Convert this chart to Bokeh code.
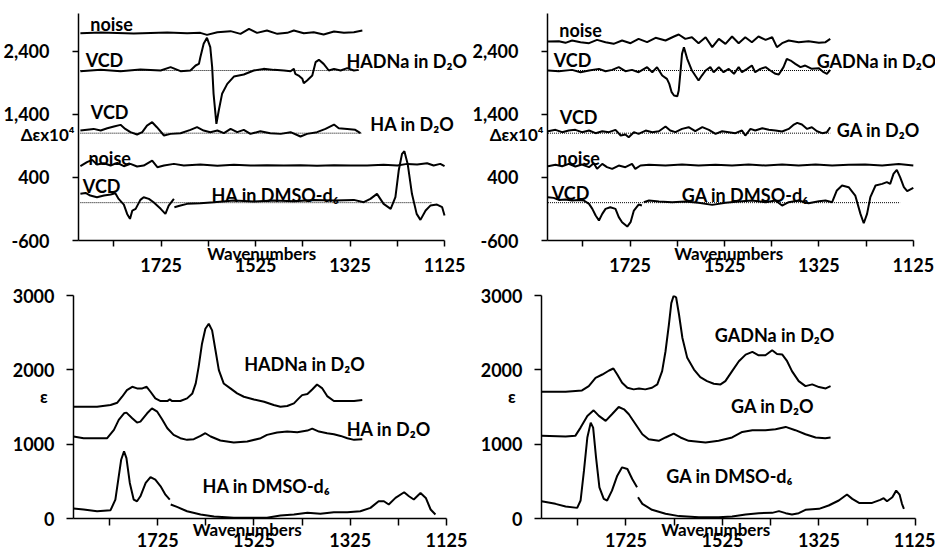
from bokeh.plotting import figure
from bokeh.layouts import column, row
from bokeh.models import Range1d, FixedTicker, NumeralTickFormatter, Label
from bokeh.embed import file_html
from bokeh.resources import INLINE

nan = float("nan")
FONT = "Lato"

# ---------------- axes ----------------
x_ticks = [1825, 1725, 1625, 1525, 1425, 1325, 1225, 1125]
x_tick_labels = {1825: "", 1725: "1725", 1625: "", 1525: "1525", 1425: "", 1325: "1325", 1225: "", 1125: "1125"}
vcd_yticks = [-600, 400, 1400, 2400]
ir_yticks = [0, 1000, 2000, 3000]
x_title = "Wavenumbers"
vcd_title = "\u0394\u03b5x10\u2074"
ir_title = "\u03b5"

# ---------------- VCD, HA panel (top left) ----------------
ha_noise_d2o_x = [1896, 1853, 1783, 1712, 1670, 1642, 1628, 1606, 1578, 1557, 1539, 1522, 1501, 1479, 1458, 1444, 1423, 1402, 1381, 1359, 1338, 1317, 1299]
ha_noise_d2o_y = [2688, 2698, 2683, 2698, 2688, 2693, 2661, 2704, 2720, 2677, 2757, 2693, 2730, 2677, 2693, 2730, 2688, 2704, 2667, 2714, 2693, 2704, 2730]

hadna_vcd_x = [1896, 1853, 1811, 1769, 1726, 1705, 1684, 1663, 1652, 1645, 1642, 1635, 1628, 1621, 1617, 1614, 1610, 1608, 1603, 1596, 1585, 1571, 1550, 1529, 1508, 1486, 1465, 1451, 1444, 1441, 1434, 1426, 1423, 1416, 1405, 1398, 1391, 1381, 1370, 1359, 1345, 1331, 1317, 1307]
hadna_vcd_y = [2085, 2106, 2085, 2112, 2096, 2149, 2085, 2096, 2175, 2201, 2307, 2519, 2614, 2466, 2149, 1726, 1408, 1250, 1461, 1726, 1884, 2000, 2032, 2096, 2122, 2106, 2096, 2085, 2122, 2043, 2016, 1964, 1895, 1937, 2016, 2228, 2265, 2201, 2096, 2122, 2096, 2133, 2096, 2106]

ha_d2o_vcd_x = [1896, 1868, 1853, 1839, 1825, 1811, 1801, 1790, 1776, 1765, 1755, 1744, 1734, 1719, 1705, 1684, 1663, 1649, 1635, 1621, 1606, 1592, 1578, 1564, 1550, 1536, 1515, 1494, 1472, 1451, 1430, 1416, 1395, 1377, 1359, 1349, 1331, 1314, 1303]
ha_d2o_vcd_y = [1144, 1170, 1144, 1181, 1208, 1234, 1170, 1118, 1081, 1118, 1223, 1276, 1197, 1065, 1091, 1102, 1155, 1197, 1144, 1118, 1144, 1102, 1170, 1118, 1155, 1091, 1133, 1102, 1091, 1118, 1049, 1091, 1118, 1170, 1239, 1181, 1170, 1155, 1102]

ha_noise_dmso_x = [1896, 1882, 1871, 1861, 1846, 1832, 1818, 1804, 1790, 1776, 1762, 1744, 1733, 1719, 1698, 1677, 1642, 1606, 1571, 1536, 1501, 1465, 1430, 1395, 1359, 1324, 1289, 1254, 1225, 1204, 1183, 1162, 1148, 1134, 1125]
ha_noise_dmso_y = [578, 642, 679, 605, 626, 589, 631, 578, 615, 573, 589, 668, 563, 589, 615, 589, 605, 584, 600, 589, 594, 589, 594, 584, 594, 589, 589, 600, 589, 615, 605, 626, 589, 615, 578]

ha_dmso_vcd_x = [1896, 1885, 1875, 1861, 1846, 1832, 1822, 1815, 1804, 1797, 1791, 1786, 1779, 1769, 1762, 1751, 1741, 1726, 1716, 1709, 1698, nan,
                 1697, 1684, 1670, 1642, 1613, 1571, 1529, 1486, 1444, 1402, 1359, 1317, 1296, 1282, 1268, 1254, 1239, 1229, 1222, 1215, 1210, 1203, 1194, 1184, 1176, 1165, 1155, 1141, 1130, 1125]
ha_dmso_vcd_y = [140, 155, 113, 87, 113, 129, 150, 60, -30, -178, -257, -125, -98, 44, 87, 60, 7, -98, -178, -46, 60, nan,
                 -72, -46, -19, -9, 7, 34, 18, 34, 23, 44, 34, 44, 7, 60, 140, -19, -98, 87, 510, 774, 816, 615, 140, -178, -273, -125, -46, -30, -72, -204]

ha_base_d2o_na_x = [1896, 1306]
ha_base_d2o_na_y = [2096, 2096]
ha_base_d2o_x = [1896, 1299]
ha_base_d2o_y = [1102, 1102]
ha_base_dmso_x = [1896, 1151]
ha_base_dmso_y = [0, 0]

# ---------------- VCD, GA panel (top right) ----------------
ga_noise_d2o_x = [1899, 1876, 1862, 1848, 1830, 1812, 1795, 1777, 1760, 1742, 1724, 1707, 1689, 1671, 1650, 1632, 1622, 1608, 1594, 1580, 1565, 1551, 1537, 1523, 1509, 1495, 1481, 1467, 1453, 1438, 1424, 1414, 1403, 1389, 1368, 1347, 1325, 1311, 1301]
ga_noise_d2o_y = [2556, 2561, 2535, 2572, 2545, 2529, 2582, 2545, 2519, 2572, 2529, 2598, 2545, 2614, 2572, 2635, 2667, 2598, 2624, 2529, 2624, 2466, 2598, 2519, 2635, 2529, 2624, 2545, 2635, 2582, 2624, 2466, 2529, 2572, 2545, 2561, 2535, 2545, 2598]

gadna_vcd_x = [1899, 1876, 1848, 1830, 1812, 1791, 1777, 1763, 1749, 1735, 1721, 1707, 1689, 1678, 1668, 1657, 1647, 1642, 1637, 1632, 1625, 1622, 1618, 1615, 1611, 1604, 1594, 1587, 1580, 1573, 1565, 1555, 1548, 1537, 1527, 1516, 1505, 1495, 1488, 1477, 1467, 1460, 1449, 1438, 1428, 1417, 1410, 1400, 1393, 1385, 1375, 1364, 1354, 1340, 1325, 1315, 1308, 1301]
gadna_vcd_y = [2096, 2085, 2106, 2069, 2096, 2122, 2085, 2106, 2149, 2085, 2106, 2069, 2149, 2069, 2149, 2016, 1964, 1884, 1752, 1699, 1689, 1779, 2096, 2360, 2466, 2281, 2096, 2016, 1937, 2016, 2096, 2149, 2069, 2149, 2069, 2122, 2043, 2149, 2069, 2122, 2175, 2069, 2122, 2149, 2096, 2043, 2032, 2149, 2281, 2254, 2201, 2149, 2175, 2122, 2133, 2069, 2043, 2106]

ga_d2o_vcd_x = [1899, 1883, 1869, 1855, 1841, 1827, 1812, 1798, 1784, 1770, 1756, 1745, 1735, 1728, 1717, 1707, 1692, 1678, 1664, 1650, 1640, 1629, 1615, 1601, 1587, 1572, 1558, 1544, 1530, 1516, 1502, 1488, 1481, 1470, 1460, 1445, 1431, 1417, 1403, 1389, 1378, 1371, 1361, 1350, 1340, 1329, 1318, 1308, 1301]
ga_d2o_vcd_y = [1133, 1155, 1118, 1144, 1155, 1118, 1144, 1102, 1133, 1118, 1155, 1065, 1081, 1038, 1118, 1091, 1144, 1118, 1133, 1208, 1144, 1118, 1170, 1197, 1133, 1197, 1155, 1091, 1133, 1118, 1102, 1144, 1065, 1170, 1144, 1181, 1155, 1144, 1128, 1170, 1239, 1266, 1239, 1170, 1197, 1133, 1102, 1118, 1197]

ga_noise_dmso_x = [1899, 1883, 1869, 1855, 1841, 1827, 1812, 1802, 1795, 1784, 1774, 1763, 1749, 1735, 1721, 1714, 1703, 1685, 1650, 1615, 1580, 1544, 1509, 1474, 1438, 1403, 1368, 1332, 1297, 1262, 1227, 1191, 1156, 1125]
ga_noise_dmso_y = [578, 600, 578, 615, 573, 605, 563, 626, 536, 615, 563, 536, 589, 563, 615, 536, 589, 600, 589, 605, 589, 600, 589, 605, 589, 605, 589, 605, 589, 600, 605, 589, 615, 589]

ga_dmso_vcd_x = [1899, 1887, 1876, 1862, 1848, 1834, 1823, 1812, 1805, 1798, 1791, 1784, 1777, 1767, 1756, 1749, 1742, 1731, 1724, 1717, 1707, 1700, nan,
                 1696, 1685, 1664, 1636, 1608, 1580, 1551, 1523, 1495, 1467, 1438, 1417, 1403, 1389, 1368, 1347, 1325, 1311, 1297, 1287, 1276, 1262, 1248, 1237, 1230, 1223, 1216, 1205, 1191, 1181, 1174, 1167, 1160, 1153, 1145, 1138, 1125]
ga_dmso_vcd_y = [87, 76, 44, 50, 34, 44, 34, -19, -98, -204, -283, -178, -98, -72, -98, -230, -310, -379, -310, -125, -30, -46, nan,
                 7, 34, 18, 7, 18, -3, -35, -3, 18, 34, 7, 34, -46, 7, 34, -9, 23, 34, 7, 193, 272, 245, 113, -178, -326, -178, 87, 272, 298, 325, 298, 457, 520, 404, 245, 182, 235]

ga_base_d2o_na_x = [1899, 1304]
ga_base_d2o_na_y = [2096, 2096]
ga_base_d2o_x = [1899, 1301]
ga_base_d2o_y = [1102, 1102]
ga_base_dmso_x = [1899, 1153]
ga_base_dmso_y = [0, 0]

# ---------------- IR, HA panel (bottom left) ----------------
hadna_ir_x = [1900, 1851, 1823, 1809, 1799, 1789, 1778, 1768, 1757, 1748, 1740, 1730, 1719, 1705, 1700, 1695, 1678, 1664, 1653, 1646, 1640, 1633, 1626, 1619, 1612, 1605, 1598, 1588, 1574, 1560, 1546, 1525, 1504, 1484, 1470, 1456, 1442, 1432, 1425, 1414, 1404, 1394, 1383, 1373, 1359, 1345, 1317, 1300]
hadna_ir_y = [1504, 1504, 1527, 1558, 1638, 1727, 1772, 1750, 1750, 1772, 1705, 1616, 1580, 1580, 1602, 1580, 1580, 1616, 1683, 1817, 2040, 2352, 2553, 2620, 2531, 2263, 1995, 1817, 1750, 1683, 1638, 1602, 1571, 1527, 1504, 1513, 1549, 1616, 1660, 1674, 1736, 1803, 1750, 1647, 1580, 1580, 1580, 1593]

ha_d2o_ir_x = [1900, 1879, 1830, 1816, 1806, 1795, 1790, 1778, 1768, 1761, 1747, 1737, 1726, 1716, 1705, 1692, 1678, 1664, 1650, 1636, 1626, 1615, 1595, 1567, 1539, 1511, 1498, 1477, 1456, 1435, 1414, 1404, 1390, 1373, 1359, 1345, 1331, 1317, 1300]
ha_d2o_ir_y = [1103, 1080, 1080, 1192, 1326, 1415, 1424, 1348, 1290, 1303, 1415, 1482, 1437, 1335, 1214, 1125, 1080, 1058, 1067, 1111, 1147, 1103, 1049, 1022, 1036, 1080, 1125, 1156, 1169, 1160, 1183, 1210, 1169, 1147, 1134, 1111, 1080, 1058, 1067]

ha_dmso_ir_x = [1900, 1879, 1851, 1823, 1813, 1806, 1801, 1795, 1790, 1783, 1775, 1768, 1761, 1750, 1740, 1730, 1719, 1709, 1700, nan,
                1698, 1685, 1664, 1636, 1608, 1567, 1525, 1498, 1470, 1442, 1414, 1387, 1359, 1331, 1304, 1283, 1266, 1255, 1245, 1231, 1213, 1203, 1193, 1179, 1168, 1158, 1148]
ha_dmso_ir_y = [134, 121, 98, 112, 255, 567, 790, 902, 812, 478, 255, 232, 299, 478, 558, 522, 433, 321, 255, nan,
                188, 156, 98, 54, 27, 9, 9, 9, 40, 54, 76, 63, 85, 85, 98, 143, 232, 232, 188, 277, 353, 299, 255, 344, 277, 121, 54]

# ---------------- IR, GA panel (bottom right) ----------------
gadna_ir_x = [1900, 1850, 1816, 1802, 1788, 1774, 1760, 1751, 1743, 1733, 1722, 1709, 1698, 1685, 1671, 1660, 1650, 1643, 1636, 1631, 1626, 1621, 1615, 1608, 1598, 1584, 1571, 1557, 1543, 1529, 1519, 1505, 1491, 1477, 1463, 1450, 1436, 1422, 1412, 1401, 1391, 1381, 1367, 1353, 1339, 1325, 1311, 1301]
gadna_ir_y = [1705, 1705, 1723, 1781, 1893, 1937, 1991, 2018, 1937, 1826, 1759, 1737, 1750, 1737, 1759, 1804, 1982, 2250, 2607, 2897, 3000, 2973, 2741, 2428, 2161, 2004, 1902, 1848, 1813, 1804, 1848, 1982, 2116, 2205, 2241, 2196, 2196, 2263, 2214, 2205, 2116, 1982, 1848, 1781, 1804, 1768, 1750, 1781]

ga_d2o_ir_x = [1900, 1850, 1830, 1819, 1805, 1792, 1781, 1767, 1754, 1740, 1729, 1719, 1705, 1691, 1678, 1657, 1643, 1626, 1612, 1595, 1560, 1533, 1505, 1484, 1463, 1436, 1415, 1394, 1374, 1353, 1332, 1312, 1301]
ga_d2o_ir_y = [1112, 1103, 1112, 1223, 1380, 1455, 1380, 1313, 1402, 1500, 1469, 1402, 1268, 1134, 1067, 1045, 1090, 1143, 1090, 1045, 1023, 1045, 1090, 1165, 1188, 1188, 1201, 1232, 1188, 1134, 1090, 1081, 1090]

ga_dmso_ir_x = [1900, 1871, 1850, 1826, 1819, 1812, 1805, 1798, 1793, 1787, 1780, 1771, 1764, 1754, 1743, 1733, 1722, 1712, 1702, nan,
                1700, 1691, 1671, 1643, 1615, 1574, 1533, 1505, 1477, 1450, 1422, 1408, 1394, 1381, 1367, 1353, 1325, 1305, 1284, 1267, 1256, 1242, 1215, 1198, 1191, 1184, 1173, 1165, 1158, 1153, 1149]
ga_dmso_ir_y = [233, 197, 161, 143, 242, 643, 1090, 1290, 1223, 822, 420, 264, 242, 375, 576, 688, 666, 532, 420, nan,
                286, 197, 117, 63, 32, 18, 18, 27, 54, 72, 76, 99, 72, 54, 72, 117, 130, 175, 242, 322, 264, 210, 210, 250, 273, 232, 286, 375, 322, 197, 130]

EN = "\u2002"  # en space, pads the axis title so that it sits left of the frame centre


def make_fig(w, h, bl, br, bt, bb, x_end, yr, yticks, comma, ystand, xstand, tick_out,
             ylabel, ylabel_standoff, ylabel_lh, xlabel_standoff):
    p = figure(width=w, height=h, x_range=Range1d(1900, x_end), y_range=Range1d(*yr),
               output_backend="svg", toolbar_location=None,
               min_border_left=bl, min_border_right=br, min_border_top=bt, min_border_bottom=bb)
    p.outline_line_color = None
    p.xgrid.visible = False
    p.ygrid.visible = False
    p.background_fill_color = "white"
    p.border_fill_color = "white"
    p.xaxis.ticker = FixedTicker(ticks=x_ticks)
    p.xaxis.major_label_overrides = x_tick_labels
    p.xaxis.bounds = (1125, 1900)
    p.yaxis.ticker = FixedTicker(ticks=yticks)
    if comma:
        p.yaxis.formatter = NumeralTickFormatter(format="0,0")
    for ax in (p.xaxis[0], p.yaxis[0]):
        ax.axis_line_width = 1.5
        ax.axis_line_color = "black"
        ax.major_tick_line_color = "black"
        ax.major_tick_line_width = 1.5
        ax.major_tick_in = 0
        ax.major_tick_out = tick_out
        ax.minor_tick_line_color = None
        ax.major_label_text_font = FONT
        ax.major_label_text_font_style = "bold"
        ax.major_label_text_font_size = "18px"
        ax.major_label_text_color = "black"
        ax.axis_label_text_font = FONT
        ax.axis_label_text_font_style = "bold"
        ax.axis_label_text_font_size = "17px"
        ax.axis_label_text_color = "black"
    p.yaxis.major_label_standoff = ystand
    p.xaxis.major_label_standoff = xstand
    p.xaxis.axis_label = x_title + EN * 3
    p.xaxis.axis_label_standoff = xlabel_standoff
    p.yaxis.axis_label = ylabel
    p.yaxis.axis_label_orientation = "horizontal"
    p.yaxis.axis_label_standoff = ylabel_standoff
    p.yaxis.axis_label_text_line_height = ylabel_lh
    return p


def lbl(p, x, y, t):
    p.add_layout(Label(x=x, y=y, text=t, text_font=FONT, text_font_style="bold",
                       text_font_size="18px", text_align="center", text_baseline="middle",
                       text_color="black"))


LW = 2

# top left
p1 = make_fig(470, 280, 78, 0, 13, 40, 1070, (-600, 3000), vcd_yticks, True, 23, 11, 6,
              "\n" + vcd_title, -74, 0.75, -32)
for xs, ys in [(ha_noise_d2o_x, ha_noise_d2o_y), (hadna_vcd_x, hadna_vcd_y), (ha_d2o_vcd_x, ha_d2o_vcd_y),
               (ha_noise_dmso_x, ha_noise_dmso_y), (ha_dmso_vcd_x, ha_dmso_vcd_y)]:
    p1.line(xs, ys, line_color="black", line_width=LW)
for xs, ys in [(ha_base_d2o_na_x, ha_base_d2o_na_y), (ha_base_d2o_x, ha_base_d2o_y), (ha_base_dmso_x, ha_base_dmso_y)]:
    p1.line(xs, ys, line_color="black", line_width=1, line_dash="1 1")
lbl(p1, 1830, 2826, "noise")
lbl(p1, 1845, 2255, "VCD")
lbl(p1, 1205, 2239, "HADNa in D\u2082O")
lbl(p1, 1834, 1430, "VCD")
lbl(p1, 1193, 1240, "HA in D\u2082O")
lbl(p1, 1834, 716, "noise")
lbl(p1, 1851, 272, "VCD")
lbl(p1, 1483, 114, "HA in DMSO-d\u2086")

# top right
p2 = make_fig(465, 280, 77, 0, 13, 40, 1078, (-600, 3000), vcd_yticks, True, 23, 11, 6,
              "\n" + vcd_title, -74, 0.75, -32)
for xs, ys in [(ga_noise_d2o_x, ga_noise_d2o_y), (gadna_vcd_x, gadna_vcd_y), (ga_d2o_vcd_x, ga_d2o_vcd_y),
               (ga_noise_dmso_x, ga_noise_dmso_y), (ga_dmso_vcd_x, ga_dmso_vcd_y)]:
    p2.line(xs, ys, line_color="black", line_width=LW)
for xs, ys in [(ga_base_d2o_na_x, ga_base_d2o_na_y), (ga_base_d2o_x, ga_base_d2o_y), (ga_base_dmso_x, ga_base_dmso_y)]:
    p2.line(xs, ys, line_color="black", line_width=1, line_dash="1 1")
lbl(p2, 1830, 2746, "noise")
lbl(p2, 1847, 2255, "VCD")
lbl(p2, 1203, 2239, "GADNa in D\u2082O")
lbl(p2, 1834, 1351, "VCD")
lbl(p2, 1199, 1145, "GA in D\u2082O")
lbl(p2, 1834, 716, "noise")
lbl(p2, 1851, 161, "VCD")
lbl(p2, 1481, 114, "GA in DMSO-d\u2086")

# bottom left
p3 = make_fig(470, 275, 73, 24, 15, 36, 1125, (0, 3000), ir_yticks, False, 12, 7, 7,
              ir_title + "\n", -38, 1.0, -31)
for xs, ys in [(hadna_ir_x, hadna_ir_y), (ha_d2o_ir_x, ha_d2o_ir_y), (ha_dmso_ir_x, ha_dmso_ir_y)]:
    p3.line(xs, ys, line_color="black", line_width=LW)
lbl(p3, 1420, 2075, "HADNa in D\u2082O")
lbl(p3, 1245, 1205, "HA in D\u2082O")
lbl(p3, 1499, 442, "HA in DMSO-d\u2086")

# bottom right
p4 = make_fig(465, 275, 71, 20, 14, 37, 1125, (0, 3000), ir_yticks, False, 12, 7, 7,
              ir_title + "\n", -38, 1.0, -31)
for xs, ys in [(gadna_ir_x, gadna_ir_y), (ga_d2o_ir_x, ga_d2o_ir_y), (ga_dmso_ir_x, ga_dmso_ir_y)]:
    p4.line(xs, ys, line_color="black", line_width=LW)
lbl(p4, 1417, 2464, "GADNa in D\u2082O")
lbl(p4, 1421, 1513, "GA in D\u2082O")
lbl(p4, 1510, 576, "GA in DMSO-d\u2086")

layout = column(row(p1, p2), row(p3, p4))
open("out.html", "w").write(file_html(layout, INLINE))
